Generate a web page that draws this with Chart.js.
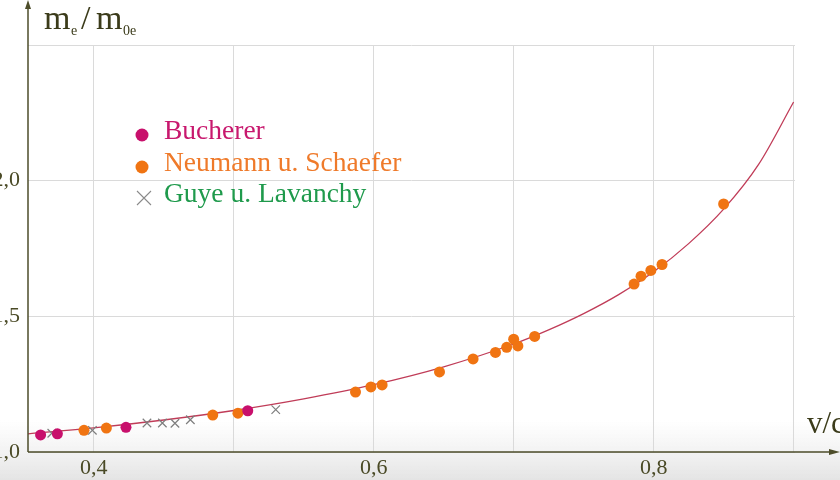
<!DOCTYPE html>
<html>
<head>
<meta charset="utf-8">
<script src="https://cdn.jsdelivr.net/npm/chart.js@4.4.1/dist/chart.umd.min.js"></script>
<style>
  html, body { margin: 0; padding: 0; background: #ffffff; }
  #wrap { width: 840px; height: 480px; position: relative; }
</style>
</head>
<body>
<div id="wrap"><canvas id="massChart" width="840" height="480"></canvas></div>
<script>
// values (v/c, m_e/m_0e)
const buchererV = [0.362, 0.374, 0.423, 0.510];
const buchererM = [1.063, 1.067, 1.091, 1.152];

const neumannV = [0.393, 0.409, 0.485, 0.503, 0.587, 0.598, 0.606, 0.647, 0.671, 0.687, 0.695, 0.700, 0.703, 0.715, 0.786, 0.791, 0.798, 0.806, 0.850];
const neumannM = [1.080, 1.088, 1.136, 1.143, 1.221, 1.240, 1.247, 1.295, 1.343, 1.367, 1.386, 1.416, 1.391, 1.426, 1.619, 1.648, 1.669, 1.691, 1.914];

const guyeV = [0.370, 0.399, 0.438, 0.449, 0.458, 0.469, 0.530];
const guyeM = [1.069, 1.080, 1.107, 1.107, 1.106, 1.119, 1.156];

// theory curve as traced on the picture
const curveV = [0.353, 0.40, 0.45, 0.50, 0.55, 0.60, 0.65, 0.70, 0.725, 0.75, 0.775, 0.80, 0.825, 0.85, 0.875, 0.90];
const curveM = [1.067, 1.089, 1.118, 1.153, 1.196, 1.248, 1.314, 1.398, 1.450, 1.510, 1.580, 1.664, 1.768, 1.895, 2.060, 2.290];

const xGridValues = [0.4, 0.5, 0.6, 0.7, 0.8, 0.9];
const yGridValues = [1.0, 1.5, 2.0, 2.5];
const xTickLabels = ["0,4", "0,6", "0,8"];
const yTickLabels = ["1,0", "1,5", "2,0"];

function pairs(xs, ys) {
    return xs.map(function (x, i) { return { x: x, y: ys[i] }; });
}

const serif = "'Liberation Serif', 'DejaVu Serif', serif";
const axisColor = "#4d4d2a";

const decorPlugin = {
    id: "decor",
    beforeDraw: function (chart) {
        const ctx = chart.ctx;
        ctx.save();
        const g = ctx.createLinearGradient(0, 420, 0, 480);
        g.addColorStop(0, "rgba(235,235,235,0)");
        g.addColorStop(1, "rgba(228,228,228,1)");
        ctx.fillStyle = g;
        ctx.fillRect(0, 420, 840, 60);
        ctx.restore();
    },
    afterDraw: function (chart) {
        const ctx = chart.ctx;
        const a = chart.chartArea;
        ctx.save();
        ctx.strokeStyle = axisColor;
        ctx.fillStyle = axisColor;
        ctx.lineWidth = 1.5;
        // y axis with arrow
        ctx.beginPath();
        ctx.moveTo(a.left, a.bottom);
        ctx.lineTo(a.left, 4);
        ctx.stroke();
        ctx.beginPath();
        ctx.moveTo(a.left, 0);
        ctx.lineTo(a.left - 3, 9);
        ctx.lineTo(a.left + 3, 9);
        ctx.closePath();
        ctx.fill();
        // x axis with arrow
        ctx.beginPath();
        ctx.moveTo(a.left, a.bottom);
        ctx.lineTo(832, a.bottom);
        ctx.stroke();
        ctx.beginPath();
        ctx.moveTo(840, a.bottom);
        ctx.lineTo(829, a.bottom - 3);
        ctx.lineTo(829, a.bottom + 3);
        ctx.closePath();
        ctx.fill();

        // axis titles
        ctx.fillStyle = "#3b3b1a";
        ctx.textBaseline = "alphabetic";
        ctx.textAlign = "left";
        ctx.font = "34px " + serif;
        ctx.fillText("m", 44, 29);
        ctx.fillText("/", 81, 29);
        ctx.fillText("m", 96, 29);
        ctx.font = "14px " + serif;
        ctx.fillText("e", 71, 35);
        ctx.fillText("0e", 123, 35);
        ctx.font = "31px " + serif;
        ctx.fillText("v/c", 807, 433);

        // legend
        const items = [
            { label: "Bucherer", color: "#c8106c", text: "#c8186e", mark: "dot", y: 132 },
            { label: "Neumann u. Schaefer", color: "#f07412", text: "#ef7a2a", mark: "dot", y: 164 },
            { label: "Guye u. Lavanchy", color: "#8a8a8a", text: "#1f9a4c", mark: "cross", y: 195 }
        ];
        ctx.font = "27.5px " + serif;
        ctx.textBaseline = "middle";
        items.forEach(function (it) {
            if (it.mark === "dot") {
                ctx.fillStyle = it.color;
                ctx.beginPath();
                ctx.arc(142, it.y + 3, 6.5, 0, Math.PI * 2);
                ctx.fill();
            } else {
                ctx.strokeStyle = it.color;
                ctx.lineWidth = 1.1;
                ctx.beginPath();
                ctx.moveTo(137, it.y - 4);
                ctx.lineTo(151, it.y + 10);
                ctx.moveTo(151, it.y - 4);
                ctx.lineTo(137, it.y + 10);
                ctx.stroke();
            }
            ctx.fillStyle = it.text;
            ctx.fillText(it.label, 164, it.y);
        });
        ctx.restore();
    }
};

function fmt(value) {
    return value.toFixed(1).replace(".", ",");
}

new Chart(document.getElementById("massChart"), {
    type: "scatter",
    data: {
        datasets: [
            {
                type: "line",
                label: "Theorie",
                data: pairs(curveV, curveM),
                borderColor: "#c03c58",
                borderWidth: 1.3,
                pointRadius: 0,
                fill: false,
                cubicInterpolationMode: "monotone",
                order: 4,
            },
            {
                label: "Guye u. Lavanchy",
                data: pairs(guyeV, guyeM),
                pointStyle: "crossRot",
                pointRadius: 6,
                borderColor: "#7e7e7e",
                borderWidth: 1.2,
                order: 3,
            },
            {
                label: "Neumann u. Schaefer",
                data: pairs(neumannV, neumannM),
                pointRadius: 5.5,
                backgroundColor: "#f07412",
                borderColor: "#f07412",
                borderWidth: 0,
                order: 2,
            },
            {
                label: "Bucherer",
                data: pairs(buchererV, buchererM),
                pointRadius: 5.5,
                backgroundColor: "#c8106c",
                borderColor: "#c8106c",
                borderWidth: 0,
                order: 1,
            },
        ],
    },
    options: {
        responsive: false,
        animation: false,
        layout: {
            padding: { top: 45, right: 45, left: 0, bottom: 0 },
        },
        plugins: {
            legend: { display: false },
            tooltip: { enabled: false },
        },
        scales: {
            x: {
                type: "linear",
                min: 0.353,
                max: 0.901,
                afterFit: function (scale) { scale.height = 28; },
                afterBuildTicks: function (scale) {
                    scale.ticks = xGridValues.map(function (v) { return { value: v }; });
                },
                border: { display: false },
                grid: { color: "#dadada", lineWidth: 1, drawTicks: false },
                ticks: {
                    padding: 3,
                    color: "#4a4a26",
                    font: { family: serif, size: 22 },
                    callback: function (value) {
                        const s = fmt(value);
                        return xTickLabels.indexOf(s) >= 0 ? s : "";
                    },
                },
            },
            y: {
                min: 1,
                max: 2.5,
                afterFit: function (scale) { scale.width = 28; },
                afterBuildTicks: function (scale) {
                    scale.ticks = yGridValues.map(function (v) { return { value: v }; });
                },
                border: { display: false },
                grid: { color: "#dadada", lineWidth: 1, drawTicks: false },
                ticks: {
                    padding: 8,
                    color: "#4a4a26",
                    font: { family: serif, size: 22 },
                    callback: function (value) {
                        const s = fmt(value);
                        return yTickLabels.indexOf(s) >= 0 ? s : "";
                    },
                },
            },
        },
    },
    plugins: [decorPlugin],
});
</script>
</body>
</html>
